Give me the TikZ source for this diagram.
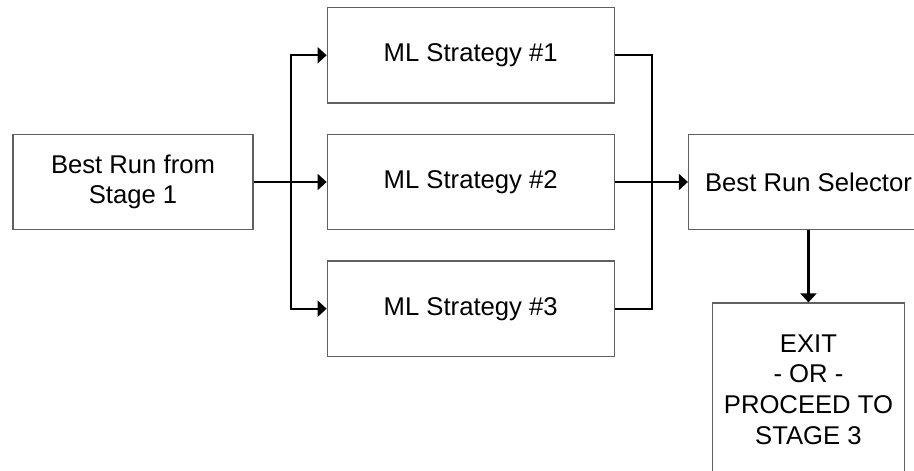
\documentclass[tikz,border=0pt]{standalone}
\usepackage{fontspec}
\setmainfont{Liberation Sans}
\usepackage{tikz}
\usetikzlibrary{positioning,arrows.meta}
\definecolor{edgegray}{RGB}{96,96,96}

\begin{document}
\begin{tikzpicture}[
  node distance=0.6cm and 1.46cm,
  block/.style={draw=edgegray, line width=0.7pt, fill=white, align=center, inner sep=0pt, minimum height=1.91cm, font=\fontsize{14.6}{17.4}\selectfont},
  arrow/.style={-{Triangle[length=0.18cm,width=0.32cm]}, line width=1.2pt, color=black},
  link/.style={line width=1.2pt, color=black}
]
\useasboundingbox (0,0) rectangle (18.28,-9.42);
\clip (0,0) rectangle (18.28,-9.42);
\node[block, minimum width=4.8cm] (best) at (2.66,-3.64) {Best Run from\\Stage 1};
\node[block, minimum width=5.74cm, right=of best] (ml2) {ML Strategy \#2};
\node[block, minimum width=5.74cm, above=of ml2] (ml1) {ML Strategy \#1};
\node[block, minimum width=5.74cm, below=of ml2] (ml3) {ML Strategy \#3};
\node[block, minimum width=4.8cm, right=of ml2] (sel) {Best Run Selector};
\node[block, minimum width=3.84cm, minimum height=3.46cm, below=1.44cm of sel] (exit) {EXIT\\- OR -\\PROCEED TO\\STAGE 3};
\coordinate (fork) at ([xshift=0.74cm]best.east);
\coordinate (join) at ([xshift=0.74cm]ml2.east);
\draw[arrow] (best) -- (ml2);
\draw[arrow] (fork) |- (ml1.west);
\draw[arrow] (fork) |- (ml3.west);
\draw[link] (ml1.east) -| (join);
\draw[link] (ml3.east) -| (join);
\draw[arrow] (ml2) -- (sel);
\draw[arrow] (sel) -- (exit);
\end{tikzpicture}
\end{document}
